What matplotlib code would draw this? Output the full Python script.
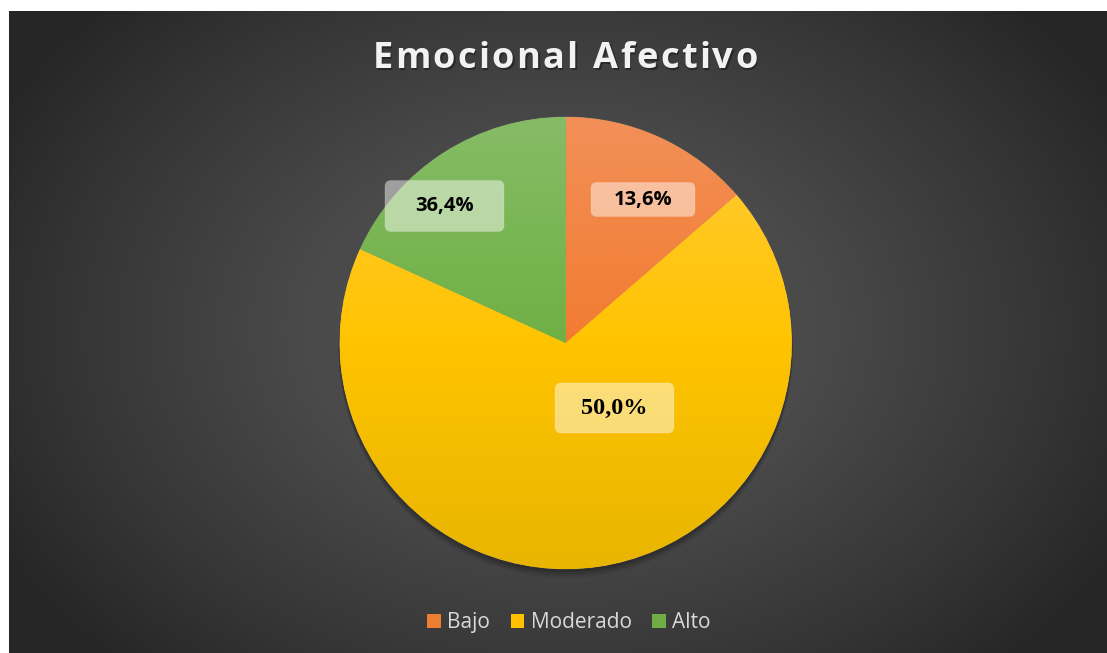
import numpy as np
import matplotlib
matplotlib.use("Agg")
import matplotlib.pyplot as plt
from matplotlib.patches import Patch, FancyBboxPatch, Circle
from matplotlib.colors import LinearSegmentedColormap

# ---- data ----
title = "Emocional Afectivo"
categories = ["Bajo", "Moderado", "Alto"]
slice_counts = [3, 15, 4]                  # slice sizes as drawn in the picture
label_texts = ["13,6%", "50,0%", "36,4%"]  # label text as printed in the picture
base_colors = ["#ED7D31", "#FFC000", "#70AD47"]
grad_stops = [["#F29058", "#F27B30", "#E36A22"],
              ["#FFCA3A", "#FFC400", "#E8B500"],
              ["#86BC66", "#6FB044", "#5E9C36"]]

W, H = 1107, 653
fig = plt.figure(figsize=(W / 100, H / 100), dpi=100)
fig.patch.set_facecolor("white")

ax = fig.add_axes([0, 0, 1, 1])
ax.set_xlim(0, W)
ax.set_ylim(0, H)
ax.axis("off")

# ---- dark radial background ----
x0, y0 = 9, 0
x1, y1 = W, H - 11
yy, xx = np.mgrid[y0:y1:2, x0:x1:2]
cx, cy = 560, H - 330
d = np.sqrt(((xx - cx) / 640.0) ** 2 + ((yy - cy) / 470.0) ** 2)
d = np.clip(d, 0, 1.0)
bg_cmap = LinearSegmentedColormap.from_list(
    "bg", [(0, "#525252"), (0.4, "#4a4a4a"), (0.75, "#363636"), (1.0, "#262626")])
ax.imshow(d, cmap=bg_cmap, extent=(x0, x1, y0, y1), origin="lower",
          aspect="auto", zorder=0, vmin=0, vmax=1, interpolation="bilinear")

# ---- pie ----
pcx, pcy, R = 565.7, H - 343, 226
for k, a in [(8, 0.05), (6, 0.07), (4, 0.09), (2, 0.12)]:
    ax.add_patch(Circle((pcx, pcy - k), R + 1, color="black", alpha=a, zorder=1, lw=0))

wedges, _ = ax.pie(slice_counts, startangle=90, counterclock=False,
                   center=(pcx, pcy), radius=R, colors=base_colors,
                   wedgeprops=dict(linewidth=0.6, edgecolor=(1, 1, 1, 0.2)))
for w in wedges:
    w.set_zorder(2)

grad = np.linspace(1, 0, 300).reshape(-1, 1)
for w, stops in zip(wedges, grad_stops):
    cm = LinearSegmentedColormap.from_list("g", stops[::-1])
    im = ax.imshow(grad, cmap=cm, extent=(pcx - R, pcx + R, pcy - R, pcy + R),
                   origin="upper", aspect="auto", zorder=3, vmin=0, vmax=1)
    im.set_clip_path(w)

ax.set_xlim(0, W)
ax.set_ylim(0, H)
ax.set_aspect("auto")

# ---- data labels ----
label_pos = [(643, H - 199.5), (614.5, H - 408), (444.5, H - 206)]
box_size = [(104, 34), (119, 50), (119, 51)]
label_fonts = [dict(family="Open Sans", weight="bold", size=14.5),
               dict(family="Liberation Serif", weight="bold", size=17.5),
               dict(family="Open Sans", weight="bold", size=14.5)]
for (lx, ly), (bw, bh), txt, fnt in zip(label_pos, box_size, label_texts, label_fonts):
    ax.add_patch(FancyBboxPatch((lx - bw / 2 + 6, ly - bh / 2 + 6), bw - 12, bh - 12,
                                boxstyle="round,pad=6", fc=(1, 1, 1, 0.47),
                                ec=(1, 1, 1, 0.15), lw=0.8, zorder=5))
    ax.text(lx, ly, txt, ha="center", va="center", color="black", zorder=6, **fnt)

# ---- title with letter spacing ----
fig.canvas.draw()
renderer = fig.canvas.get_renderer()
tsize = 26
tfont = dict(family="Open Sans", weight="bold", size=tsize, color="#F2F2F2")
spacing = 2.3
widths = []
for ch in title:
    t = ax.text(0, 0, ch if ch != " " else "n", **tfont)
    bb = t.get_window_extent(renderer)
    w = bb.width if ch != " " else bb.width * 0.45
    widths.append(w)
    t.remove()
total = sum(widths) + spacing * (len(title) - 1)
xs = 565 - total / 2
ty = H - 59
for ch, w in zip(title, widths):
    if ch != " ":
        ax.text(xs + 1.5, ty - 1.5, ch, ha="left", va="center", zorder=7,
                family="Open Sans", weight="bold", size=tsize, color=(0, 0, 0, 0.35))
        ax.text(xs, ty, ch, ha="left", va="center", zorder=8, **tfont)
    xs += w + spacing

# ---- legend ----
handles = [Patch(facecolor=c, edgecolor="none") for c in base_colors]
leg = fig.legend(handles, categories, loc="center", bbox_to_anchor=(569 / W, 1 - 622.5 / H),
                 ncol=3, frameon=False, prop=dict(family="Open Sans", size=15),
                 handlelength=0.65, handleheight=0.65, handletextpad=0.3,
                 columnspacing=1.0, labelcolor="#D9D9D9")

fig.savefig("out.png", dpi=100, facecolor=fig.get_facecolor())
